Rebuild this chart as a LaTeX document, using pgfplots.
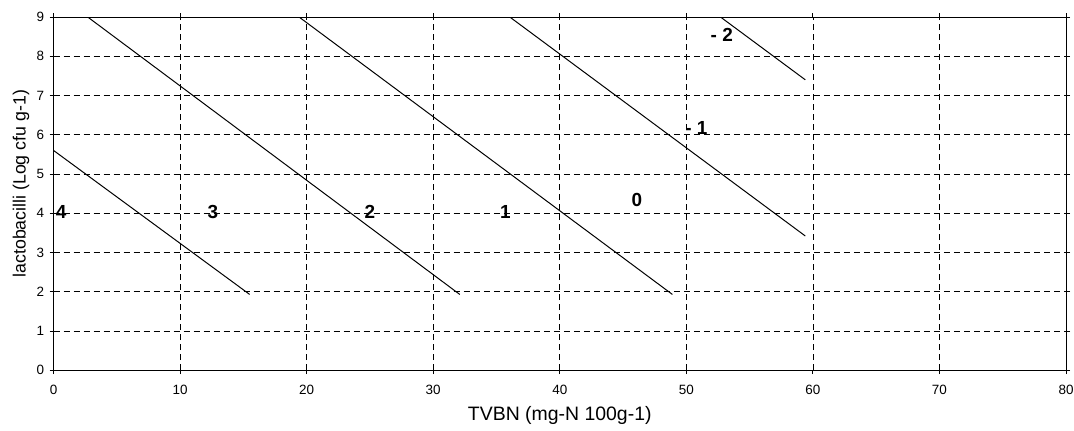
\documentclass[border=0pt]{standalone}
\usepackage{pgfplots}
\pgfplotsset{compat=1.18}
\usepackage{fontspec}
\setmainfont{Liberation Sans}
\begin{document}
\begin{tikzpicture}
\begin{axis}[
  scale only axis,
  width=1012bp, height=353bp,
  xmin=0, xmax=80, ymin=0, ymax=9,
  xtick={0,10,...,80}, ytick={0,1,...,9},
  grid=major,
  major grid style={black, dash pattern=on 6bp off 4bp, line width=0.6pt},
  axis line style={black, line width=0.9pt},
  tick align=outside, major tick length=4bp,
  tick style={black, line width=0.8pt},
  /pgf/number format/assume math mode=true,
  xticklabel style={font=\fontsize{13.5}{15}\selectfont, yshift=-7bp},
  yticklabel style={font=\fontsize{13.5}{15}\selectfont, xshift=-2bp},
  xlabel={TVBN (mg-N 100g-1)},
  ylabel={lactobacilli (Log cfu g-1)},
  xlabel style={font=\fontsize{19.5}{22}\selectfont, at={(axis description cs:0.5,-0.1275)}, anchor=center},
  ylabel style={font=\fontsize{17.8}{20}\selectfont, at={(axis description cs:-0.0321,0.528)}, anchor=center},
  clip=true,
]
\addplot[black, line width=1pt] coordinates {(0,5.6) (15.5,1.93)};
\addplot[black, line width=1pt] coordinates {(2.7,9) (32.1,1.93)};
\addplot[black, line width=1pt] coordinates {(19.4,9) (48.9,1.93)};
\addplot[black, line width=1pt] coordinates {(36.05,9) (59.4,3.42)};
\addplot[black, line width=1pt] coordinates {(52.7,9) (59.4,7.4)};
\node[font=\fontsize{19}{21}\bfseries\selectfont] at (axis cs:0.6,4.03) {4};
\node[font=\fontsize{19}{21}\bfseries\selectfont] at (axis cs:12.6,4.03) {3};
\node[font=\fontsize{19}{21}\bfseries\selectfont] at (axis cs:25,4.03) {2};
\node[font=\fontsize{19}{21}\bfseries\selectfont] at (axis cs:35.7,4.03) {1};
\node[font=\fontsize{19}{21}\bfseries\selectfont] at (axis cs:46.1,4.33) {0};
\node[font=\fontsize{19}{21}\bfseries\selectfont] at (axis cs:50.8,6.17) {- 1};
\node[font=\fontsize{19}{21}\bfseries\selectfont] at (axis cs:52.8,8.55) {- 2};
\end{axis}
\pgfresetboundingbox
\path (current axis.south west) ++(-53.5bp,-60bp) coordinate (bl);
\path (current axis.north east) ++(8bp,17bp) coordinate (tr);
\useasboundingbox (bl) rectangle (tr);
\end{tikzpicture}
\end{document}
